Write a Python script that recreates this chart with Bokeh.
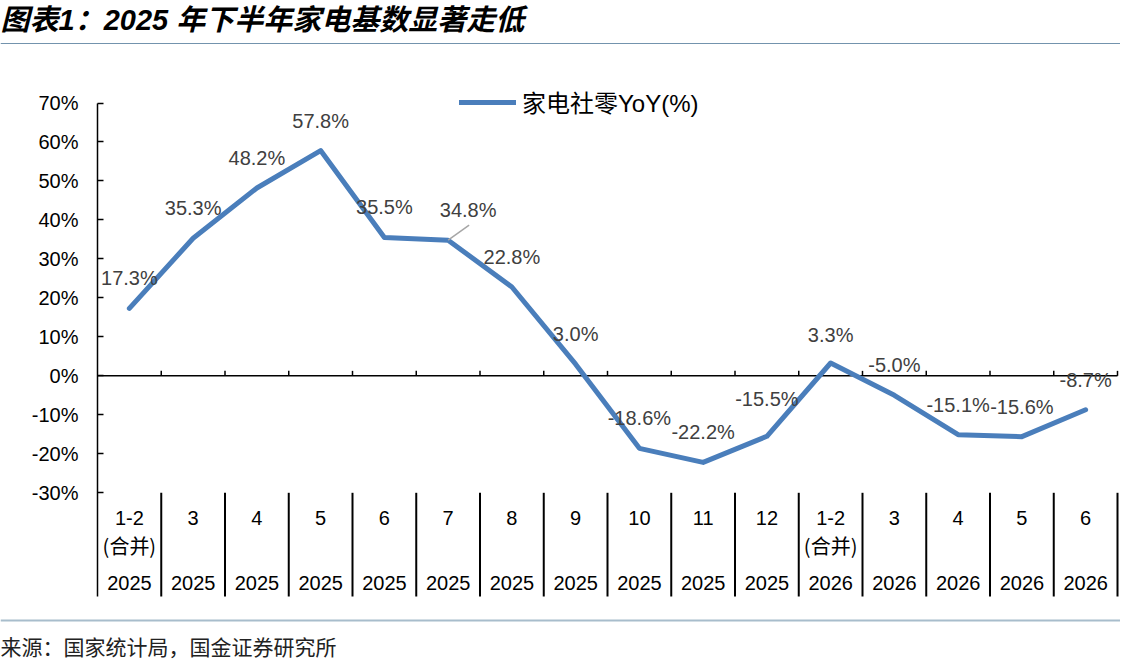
from bokeh.plotting import figure
from bokeh.models import ColumnDataSource, Range1d, FixedTicker, PrintfTickFormatter
from bokeh.core.properties import value
from bokeh.embed import file_html
from bokeh.resources import INLINE

# ---------------- data ----------------
TITLE = "图表1：2025 年下半年家电基数显著走低"
SOURCE = "来源：国家统计局，国金证券研究所"
SERIES_NAME = "家电社零YoY(%)"

months = ["1-2", "3", "4", "5", "6", "7", "8", "9", "10", "11", "12",
          "1-2", "3", "4", "5", "6"]
notes = ["(合并)", "", "", "", "", "", "", "", "", "", "",
         "(合并)", "", "", "", ""]
years = ["2025", "2025", "2025", "2025", "2025", "2025", "2025", "2025",
         "2025", "2025", "2025", "2026", "2026", "2026", "2026", "2026"]
yoy = [17.3, 35.3, 48.2, 57.8, 35.5, 34.8, 22.8, 3.0,
       -18.6, -22.2, -15.5, 3.3, -5.0, -15.1, -15.6, -8.7]
y_ticks = [-30, -20, -10, 0, 10, 20, 30, 40, 50, 60, 70]

# ---------------- style / layout ----------------
W, H = 1120, 660
AXIS_PX = 97          # canvas column of the value axis
RIGHT_PX = 1117       # canvas column of the last category boundary
PX = 3.898            # pixels per percentage point
Y70_PX = 102.5        # canvas row of 70%
LINE_COLOR = "#4A7EBB"
LATIN = "Liberation Sans, Noto Sans CJK SC"
CJK = "Noto Sans CJK SC"

n = len(months)
cat_w = (RIGHT_PX - AXIS_PX) / n


def y_at(py):
    """canvas pixel row -> data value"""
    return 70 - (py - Y70_PX) / PX


def x_at(px):
    """canvas pixel column -> category-index coordinate"""
    return (px - AXIS_PX) / cat_w


table_bottom = y_at(596)

centers = [i + 0.5 for i in range(n)]     # category slots on the index scale
bounds = [i + 1.0 for i in range(n)]      # right edge of each slot

# label nudges (pixels): index -> (dx, dy)
nudge = {5: (20, 0), 10: (0, -7), 11: (0, 2)}
lab_dx = [nudge.get(i, (0, 0))[0] for i in range(n)]
lab_dy = [-30 + nudge.get(i, (0, 0))[1] for i in range(n)]
labels = [f"{v:.1f}%" for v in yoy]

src = ColumnDataSource(dict(x=centers, b=bounds, yoy=yoy, label=labels, dx=lab_dx,
                            dy=lab_dy, month=months, note=notes, year=years))

# ---------------- figure ----------------
p = figure(width=W, height=H, x_range=Range1d(x_at(0), x_at(W)),
           y_range=Range1d(y_at(H), y_at(0)), output_backend="svg", toolbar_location=None,
           x_axis_location=None, min_border=0, outline_line_color=None)
p.xgrid.visible = False
p.ygrid.visible = False

ax = p.yaxis[0]
ax.fixed_location = 0
ax.ticker = FixedTicker(ticks=y_ticks, minor_ticks=[])
ax.formatter = PrintfTickFormatter(format="%d%%")
ax.bounds = (table_bottom, 70)
ax.axis_line_color = "black"
ax.axis_line_width = 1.5
ax.major_tick_in = 6
ax.major_tick_out = 0
ax.major_tick_line_color = "black"
ax.major_tick_line_width = 1.5
ax.minor_tick_line_color = None
ax.major_label_standoff = 19
ax.major_label_text_font = LATIN
ax.major_label_text_font_size = "20px"
ax.major_label_text_color = "black"

# title, rules and source note
p.text(x=[x_at(0)], y=[y_at(19.5)], text=[TITLE], text_font=value(LATIN),
       text_font_size="29px", text_font_style="bold italic",
       text_align="left", text_baseline="middle", text_color="black")
p.segment(x0=[x_at(0)], x1=[x_at(W)], y0=[y_at(43)], y1=[y_at(43)],
          line_color="#7393AD", line_width=1.2)
p.segment(x0=[x_at(0)], x1=[x_at(W)], y0=[y_at(620)], y1=[y_at(620)],
          line_color="#A8BDCC", line_width=2)
p.text(x=[x_at(0)], y=[y_at(645)], text=[SOURCE], text_font=value(CJK),
       text_font_size="21px", text_align="left", text_baseline="middle",
       text_color="#222222")

# zero line with upward ticks at category boundaries
p.segment(x0=[0], x1=[n], y0=[0], y1=[0], line_color="black", line_width=1.5)
p.segment(x0="b", x1="b", y0=0, y1=5 / PX, source=src,
          line_color="black", line_width=1.5)

# category table separators
p.segment(x0="b", x1="b", y0=-30, y1=table_bottom, source=src,
          line_color="black", line_width=2)

# category labels
p.text(x="x", y=-30, text="month", source=src, y_offset=25.4,
       text_font=value(LATIN), text_font_size="20px", text_color="black",
       text_align="center", text_baseline="middle")
p.text(x="x", y=-30, text="note", source=src, y_offset=52.7,
       text_font=value(CJK), text_font_size="20px", text_color="black",
       text_align="center", text_baseline="middle")
p.text(x="x", y=-30, text="year", source=src, y_offset=90.4,
       text_font=value(LATIN), text_font_size="20px", text_color="black",
       text_align="center", text_baseline="middle")

# series line
p.line(x="x", y="yoy", source=src, line_color=LINE_COLOR, line_width=5,
       line_join="round", line_cap="round", legend_label=SERIES_NAME)

# leader line for one label
p.segment(x0=[centers[5]], y0=[yoy[5]], x1=[centers[5] + 21 / cat_w],
          y1=[yoy[5] + 15 / PX], line_color="#A6A6A6", line_width=1.5)

# data labels
p.text(x="x", y="yoy", text="label", source=src, x_offset="dx", y_offset="dy",
       text_font=value(LATIN), text_font_size="20px", text_color="#404040",
       text_align="center", text_baseline="middle")

lg = p.legend[0]
lg.location = (459, H - 119)
lg.border_line_color = None
lg.background_fill_alpha = 0
lg.glyph_width = 57
lg.glyph_height = 24
lg.label_height = 24
lg.label_standoff = 6
lg.padding = 0
lg.margin = 0
lg.spacing = 0
lg.label_text_font = LATIN
lg.label_text_font_size = "24px"
lg.label_text_color = "black"

open("out.html", "w").write(file_html(p, INLINE))
